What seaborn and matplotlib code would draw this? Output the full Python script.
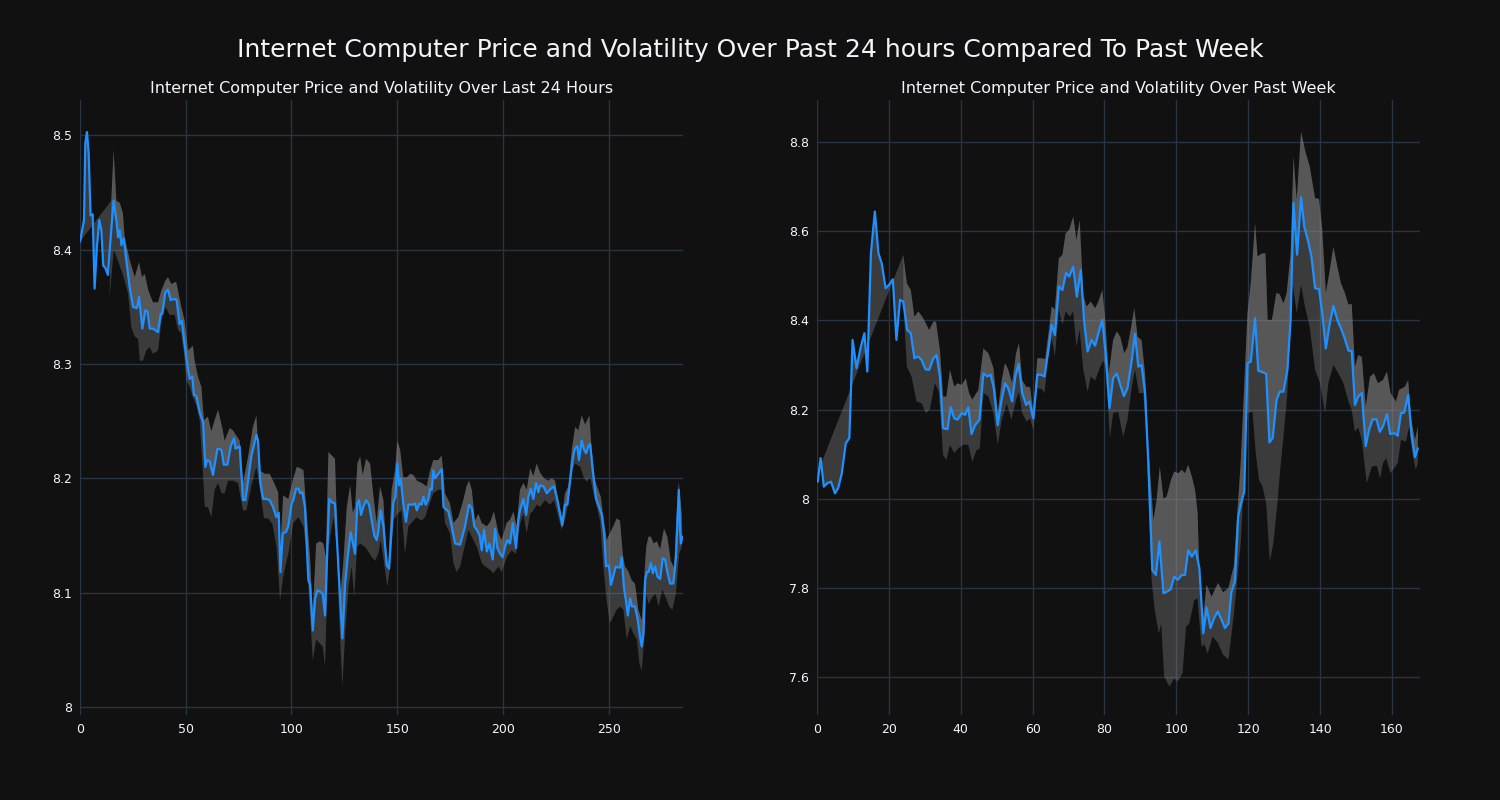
import numpy as np
import matplotlib
matplotlib.use("Agg")
import matplotlib.pyplot as plt
from matplotlib.ticker import FuncFormatter
import seaborn as sns

# ---------------- data: last 24 hours ----------------
day_t = [0, 1.9, 2.5, 3.3, 4.1, 5.0, 6.0, 6.9, 8.0, 9.1, 10.1, 11.0, 12.0, 13.2, 14.5, 15.9, 17.2, 18.0, 18.8, 19.6,
         20.7, 21.9, 23.5, 25.1, 27.0, 27.9, 29.5, 30.9, 31.9, 33.0, 34.5, 36.9, 38.2, 38.9, 40.4, 41.6, 42.9, 44.5,
         45.7, 47.1, 48.2, 49.2, 51.1, 51.9, 53.1, 53.9, 55.0, 56.6, 58.2, 59.3, 60.2, 61.3, 62.9, 65.0, 66.9, 68.0,
         69.7, 71.3, 72.8, 73.6, 75.5, 77.1, 78.2, 79.5, 81.0, 83.4, 84.2, 85.3, 86.6, 88.1, 89.7, 91.3, 92.9, 94.0,
         94.8, 95.9, 97.4, 98.5, 100.1, 100.9, 102.2, 103.3, 104.1, 105.2, 106.4, 108.0, 108.8, 110.1, 111.2, 112.3,
         113.5, 114.8, 115.9, 117.0, 117.9, 119.1, 120.6, 122.2, 124.1, 125.4, 126.6, 128.0, 129.0, 130.1, 131.2,
         132.0, 132.9, 134.0, 135.3, 136.7, 138.0, 139.2, 140.3, 141.0, 142.2, 143.5, 145.1, 146.2, 147.4, 148.2,
         149.2, 150.1, 150.9, 151.7, 152.9, 154.2, 155.3, 157.4, 158.5, 159.3, 160.5, 161.6, 162.4, 163.5, 164.8,
         165.6, 166.4, 167.1, 167.9, 169.5, 171.1, 171.9, 174.2, 175.8, 177.4, 179.8, 182.1, 184.0, 185.3, 186.5,
         187.7, 189.0, 190.0, 191.1, 192.4, 193.6, 195.2, 196.3, 197.4, 198.7, 199.9, 201.0, 202.1, 203.4, 204.7,
         206.2, 207.3, 208.1, 209.7, 211.0, 212.1, 213.2, 214.4, 215.7, 216.8, 217.6, 219.2, 220.8, 222.7, 224.2,
         225.8, 227.1, 228.1, 229.4, 230.5, 231.8, 233.0, 234.0, 235.2, 236.0, 237.3, 238.4, 239.4, 240.4, 241.3,
         242.5, 244.1, 245.7, 246.8, 247.9, 248.8, 250.1, 251.2, 252.3, 253.4, 254.6, 255.4, 256.2, 257.3, 258.3,
         259.1, 260.2, 261.0, 262.5, 263.8, 264.9, 265.7, 266.5, 267.3, 268.1, 268.9, 270.0, 270.9, 272.0, 273.1,
         274.4, 275.6, 276.7, 277.8, 279.1, 280.6, 281.9, 283.2, 283.8, 284.2, 284.9]
day_price = [8.407, 8.426, 8.493, 8.503, 8.484, 8.430, 8.431, 8.366, 8.402, 8.426, 8.417, 8.386, 8.384, 8.378, 8.411,
             8.443, 8.426, 8.411, 8.417, 8.404, 8.410, 8.391, 8.367, 8.350, 8.349, 8.359, 8.331, 8.347, 8.346, 8.331,
             8.331, 8.328, 8.344, 8.344, 8.363, 8.365, 8.356, 8.357, 8.356, 8.335, 8.338, 8.321, 8.295, 8.287, 8.289,
             8.273, 8.272, 8.258, 8.249, 8.210, 8.216, 8.215, 8.203, 8.226, 8.225, 8.212, 8.212, 8.228, 8.235, 8.226,
             8.228, 8.181, 8.181, 8.198, 8.219, 8.238, 8.233, 8.196, 8.182, 8.182, 8.181, 8.175, 8.166, 8.170, 8.118,
             8.152, 8.153, 8.158, 8.178, 8.181, 8.191, 8.191, 8.187, 8.188, 8.175, 8.111, 8.107, 8.067, 8.095, 8.102,
             8.101, 8.099, 8.080, 8.140, 8.182, 8.179, 8.178, 8.123, 8.060, 8.108, 8.131, 8.153, 8.144, 8.134, 8.178,
             8.181, 8.168, 8.175, 8.181, 8.177, 8.163, 8.150, 8.146, 8.152, 8.172, 8.158, 8.124, 8.121, 8.155, 8.179,
             8.184, 8.213, 8.194, 8.200, 8.178, 8.162, 8.177, 8.177, 8.178, 8.172, 8.178, 8.177, 8.184, 8.177, 8.182,
             8.191, 8.190, 8.207, 8.200, 8.204, 8.208, 8.175, 8.171, 8.158, 8.143, 8.142, 8.158, 8.177, 8.174, 8.158,
             8.155, 8.150, 8.137, 8.155, 8.136, 8.143, 8.129, 8.156, 8.139, 8.134, 8.131, 8.140, 8.146, 8.143, 8.161,
             8.139, 8.163, 8.172, 8.182, 8.168, 8.184, 8.191, 8.182, 8.196, 8.188, 8.194, 8.193, 8.187, 8.191, 8.193,
             8.181, 8.169, 8.159, 8.177, 8.177, 8.198, 8.216, 8.226, 8.228, 8.216, 8.233, 8.225, 8.222, 8.228, 8.230,
             8.207, 8.182, 8.174, 8.168, 8.152, 8.123, 8.124, 8.107, 8.115, 8.123, 8.122, 8.122, 8.131, 8.104, 8.092,
             8.080, 8.095, 8.088, 8.088, 8.076, 8.061, 8.053, 8.064, 8.111, 8.118, 8.118, 8.126, 8.117, 8.123, 8.114,
             8.112, 8.130, 8.129, 8.118, 8.108, 8.108, 8.131, 8.190, 8.155, 8.143, 8.149]
day_up_t = [0, 14.8, 15.9, 17.2, 18.8, 20.3, 21.1, 23.5, 25.9, 27.9, 29.3, 30.6, 32.2, 34.5, 36.9, 38.6, 40.4, 41.6,
            43.2, 45.5, 47.9, 49.5, 51.1, 53.4, 54.2, 55.8, 57.4, 58.6, 60.5, 62.1, 63.7, 65.3, 67.2, 68.4, 70.8, 72.3,
            75.5, 77.1, 79.5, 81.8, 83.4, 85.0, 87.4, 89.7, 91.3, 93.7, 94.6, 96.1, 98.5, 100.9, 102.5, 104.1, 105.7,
            107.2, 108.8, 110.1, 111.7, 113.5, 115.1, 116.3, 117.5, 119.1, 120.6, 121.7, 123.0, 124.6, 126.2, 127.8,
            129.0, 130.1, 131.2, 132.5, 133.7, 135.3, 137.2, 138.8, 140.3, 141.9, 143.5, 144.7, 145.8, 147.4, 149.0,
            150.1, 151.4, 152.9, 154.6, 156.2, 157.7, 159.3, 161.6, 164.0, 165.6, 167.1, 169.5, 171.1, 172.6, 175.0,
            176.6, 178.9, 181.3, 182.8, 184.0, 185.3, 186.8, 188.4, 190.0, 192.4, 194.0, 195.8, 197.9, 199.4, 201.8,
            203.4, 205.0, 206.5, 208.1, 209.7, 211.3, 212.9, 214.4, 216.0, 217.6, 219.5, 221.5, 223.1, 224.7, 226.3,
            227.8, 229.4, 231.0, 232.6, 234.2, 235.7, 237.3, 238.9, 240.9, 242.0, 243.6, 245.1, 246.3, 247.5, 249.1,
            250.6, 252.2, 253.8, 255.4, 256.7, 257.7, 259.3, 260.9, 262.5, 264.1, 265.7, 266.8, 267.8, 268.9, 270.0,
            271.3, 272.8, 274.4, 276.2, 277.8, 279.4, 281.0, 282.2, 283.2, 284.6]
day_up = [8.407, 8.443, 8.487, 8.443, 8.441, 8.432, 8.411, 8.391, 8.376, 8.389, 8.376, 8.379, 8.365, 8.354, 8.354,
          8.365, 8.373, 8.376, 8.370, 8.372, 8.350, 8.338, 8.312, 8.316, 8.303, 8.289, 8.280, 8.251, 8.254, 8.241,
          8.251, 8.260, 8.245, 8.233, 8.244, 8.242, 8.233, 8.196, 8.219, 8.245, 8.255, 8.207, 8.204, 8.204, 8.198,
          8.188, 8.131, 8.185, 8.182, 8.200, 8.210, 8.209, 8.207, 8.169, 8.131, 8.082, 8.143, 8.145, 8.143, 8.131,
          8.223, 8.220, 8.217, 8.149, 8.094, 8.128, 8.175, 8.194, 8.170, 8.175, 8.213, 8.219, 8.203, 8.217, 8.213,
          8.184, 8.161, 8.193, 8.181, 8.140, 8.123, 8.190, 8.207, 8.233, 8.225, 8.201, 8.201, 8.204, 8.203, 8.198,
          8.196, 8.193, 8.207, 8.216, 8.216, 8.220, 8.187, 8.178, 8.161, 8.166, 8.181, 8.193, 8.198, 8.190, 8.163,
          8.169, 8.161, 8.158, 8.162, 8.171, 8.152, 8.146, 8.161, 8.164, 8.171, 8.158, 8.190, 8.196, 8.190, 8.209,
          8.202, 8.213, 8.205, 8.200, 8.198, 8.200, 8.198, 8.178, 8.163, 8.187, 8.193, 8.225, 8.245, 8.242, 8.255,
          8.247, 8.255, 8.225, 8.198, 8.190, 8.184, 8.166, 8.146, 8.152, 8.158, 8.165, 8.163, 8.134, 8.123, 8.119,
          8.111, 8.108, 8.085, 8.076, 8.111, 8.140, 8.149, 8.149, 8.143, 8.145, 8.138, 8.156, 8.149, 8.128, 8.122,
          8.169, 8.197, 8.169]
day_lo_t = [14.0, 16.0, 18.0, 20.0, 22.7, 24.3, 25.9, 27.5, 28.3, 29.8, 31.4, 33.0, 34.5, 36.9, 38.6, 40.4, 42.4,
            44.8, 46.3, 47.9, 49.2, 50.3, 51.9, 53.4, 55.0, 56.6, 58.2, 59.0, 60.5, 62.1, 63.7, 65.3, 66.9, 68.4, 70.0,
            72.3, 74.7, 77.1, 78.7, 81.0, 83.4, 85.0, 87.0, 89.0, 91.0, 93.0, 94.6, 96.1, 98.5, 100.9, 103.3, 105.7,
            107.2, 108.8, 110.1, 111.7, 113.2, 114.8, 115.9, 117.5, 119.9, 121.4, 122.7, 124.1, 125.4, 127.0, 128.5,
            129.7, 131.0, 132.5, 134.8, 136.4, 138.0, 139.6, 141.2, 142.2, 143.7, 145.3, 146.5, 148.2, 150.1, 152.1,
            153.7, 155.3, 157.7, 159.3, 161.6, 163.2, 164.8, 167.1, 169.5, 171.4, 172.6, 175.0, 176.6, 178.1, 179.8,
            182.1, 183.7, 185.3, 187.7, 190.0, 191.6, 194.0, 195.5, 197.9, 199.4, 201.8, 204.1, 206.2, 207.8, 209.7,
            211.3, 212.9, 214.4, 216.0, 217.6, 219.9, 222.3, 224.2, 226.3, 227.8, 229.4, 231.0, 232.6, 234.2, 236.6,
            238.2, 239.7, 241.3, 242.8, 244.4, 246.0, 247.5, 249.1, 250.6, 252.2, 253.8, 255.4, 257.0, 258.6, 260.2,
            261.8, 263.4, 264.6, 265.7, 266.8, 267.8, 268.9, 270.6, 272.2, 273.7, 275.4, 277.0, 278.6, 280.2, 281.8,
            283.4, 284.6]
day_lo = [8.359, 8.400, 8.390, 8.380, 8.362, 8.332, 8.324, 8.322, 8.303, 8.303, 8.312, 8.315, 8.309, 8.312, 8.338,
          8.350, 8.343, 8.343, 8.330, 8.327, 8.309, 8.286, 8.280, 8.271, 8.264, 8.251, 8.204, 8.175, 8.175, 8.166,
          8.190, 8.196, 8.187, 8.187, 8.198, 8.198, 8.196, 8.172, 8.172, 8.193, 8.210, 8.193, 8.165, 8.165, 8.160,
          8.140, 8.093, 8.114, 8.134, 8.161, 8.166, 8.158, 8.134, 8.082, 8.041, 8.059, 8.056, 8.053, 8.035, 8.140,
          8.166, 8.140, 8.073, 8.018, 8.064, 8.105, 8.123, 8.096, 8.140, 8.143, 8.140, 8.136, 8.131, 8.128, 8.135,
          8.146, 8.128, 8.105, 8.120, 8.163, 8.169, 8.172, 8.134, 8.158, 8.163, 8.166, 8.163, 8.166, 8.175, 8.187,
          8.190, 8.190, 8.161, 8.152, 8.126, 8.118, 8.123, 8.142, 8.155, 8.149, 8.140, 8.126, 8.123, 8.120, 8.117,
          8.123, 8.118, 8.131, 8.137, 8.134, 8.158, 8.169, 8.152, 8.169, 8.172, 8.177, 8.175, 8.181, 8.177, 8.181,
          8.166, 8.155, 8.164, 8.178, 8.207, 8.213, 8.210, 8.201, 8.197, 8.201, 8.187, 8.175, 8.163, 8.123, 8.093,
          8.073, 8.079, 8.085, 8.088, 8.085, 8.059, 8.071, 8.064, 8.059, 8.038, 8.032, 8.059, 8.099, 8.090, 8.096,
          8.099, 8.088, 8.103, 8.096, 8.088, 8.085, 8.099, 8.134, 8.140]

# ---------------- data: past week ----------------
week_t = [0.2, 1.0, 1.9, 2.9, 3.9, 5.0, 5.9, 6.9, 8.0, 9.0, 9.9, 11.0, 12.2, 13.2, 14.0, 15.0, 16.1, 17.1, 18.0, 19.1,
          20.0, 21.1, 22.1, 23.1, 24.0, 25.1, 26.1, 27.1, 28.2, 29.1, 30.2, 31.2, 32.4, 33.3, 34.2, 35.1, 36.3, 37.2,
          38.2, 39.1, 40.3, 41.2, 42.1, 43.0, 44.0, 45.2, 46.3, 47.4, 48.3, 49.2, 50.3, 51.2, 52.3, 53.2, 54.3, 55.2,
          56.1, 57.1, 58.2, 59.1, 60.2, 61.3, 62.3, 63.3, 64.4, 65.3, 66.2, 67.3, 68.3, 69.3, 70.2, 71.3, 72.3, 73.4,
          74.3, 75.3, 76.4, 77.4, 78.3, 79.4, 80.3, 81.4, 82.4, 83.4, 84.4, 85.4, 86.4, 87.6, 88.5, 89.4, 90.3, 91.3,
          92.2, 93.3, 94.3, 95.3, 96.4, 97.5, 98.4, 99.4, 100.4, 101.5, 102.4, 103.3, 104.3, 105.4, 106.4, 107.5,
          108.4, 109.5, 110.5, 111.5, 112.5, 113.5, 114.5, 115.3, 116.3, 117.2, 117.9, 118.9, 119.8, 120.7, 121.9,
          122.8, 123.9, 125.0, 125.9, 126.8, 127.9, 128.8, 129.8, 130.9, 131.8, 132.6, 133.6, 134.7, 135.6, 136.7,
          137.6, 138.6, 139.7, 140.6, 141.6, 142.7, 143.7, 144.8, 145.8, 146.7, 147.9, 148.8, 149.7, 150.6, 151.6,
          152.7, 153.6, 154.6, 155.7, 156.6, 157.5, 158.6, 159.5, 160.7, 161.6, 162.5, 163.4, 164.5, 165.5, 166.4,
          167.2]
week_price = [8.038, 8.091, 8.027, 8.035, 8.038, 8.012, 8.024, 8.057, 8.124, 8.136, 8.356, 8.293, 8.341, 8.371, 8.285,
              8.550, 8.644, 8.550, 8.528, 8.472, 8.479, 8.492, 8.356, 8.446, 8.442, 8.378, 8.371, 8.315, 8.319, 8.311,
              8.290, 8.289, 8.315, 8.322, 8.274, 8.158, 8.156, 8.205, 8.180, 8.177, 8.192, 8.188, 8.205, 8.145, 8.165,
              8.177, 8.281, 8.274, 8.278, 8.248, 8.165, 8.214, 8.259, 8.248, 8.218, 8.274, 8.302, 8.237, 8.210, 8.218,
              8.180, 8.278, 8.278, 8.274, 8.334, 8.390, 8.367, 8.476, 8.468, 8.506, 8.498, 8.520, 8.453, 8.513, 8.401,
              8.330, 8.356, 8.343, 8.371, 8.401, 8.326, 8.203, 8.270, 8.281, 8.255, 8.230, 8.248, 8.311, 8.370, 8.296,
              8.300, 8.237, 8.080, 7.840, 7.829, 7.904, 7.788, 7.792, 7.797, 7.825, 7.818, 7.829, 7.829, 7.884, 7.870,
              7.884, 7.844, 7.698, 7.756, 7.710, 7.732, 7.747, 7.730, 7.710, 7.720, 7.790, 7.815, 7.960, 7.986, 8.016,
              8.304, 8.307, 8.405, 8.287, 8.284, 8.280, 8.126, 8.136, 8.222, 8.240, 8.240, 8.289, 8.401, 8.663, 8.547,
              8.676, 8.610, 8.576, 8.543, 8.472, 8.470, 8.416, 8.337, 8.393, 8.432, 8.401, 8.382, 8.363, 8.332, 8.331,
              8.210, 8.229, 8.237, 8.118, 8.154, 8.178, 8.178, 8.150, 8.162, 8.190, 8.145, 8.147, 8.141, 8.192, 8.193,
              8.233, 8.139, 8.093, 8.113]
week_up_t = [1.0, 24.0, 25.0, 26.1, 27.1, 28.2, 29.3, 30.3, 31.2, 32.4, 33.1, 34.2, 35.1, 36.0, 37.0, 38.2, 39.1, 40.3,
             41.4, 42.3, 43.2, 44.9, 46.3, 47.7, 49.1, 50.3, 51.4, 52.3, 53.2, 54.3, 55.4, 56.2, 57.1, 58.2, 59.3, 60.2,
             61.3, 62.6, 63.5, 64.6, 65.3, 66.2, 67.3, 68.3, 69.2, 70.2, 71.3, 72.2, 73.1, 74.1, 75.0, 76.2, 77.4, 78.3,
             79.4, 80.2, 81.2, 82.4, 83.4, 84.4, 85.5, 86.4, 87.6, 88.3, 89.2, 90.3, 91.3, 92.2, 93.6, 94.5, 95.4, 96.4,
             97.3, 98.5, 99.4, 100.5, 101.5, 102.4, 103.3, 104.3, 105.2, 105.9, 106.6, 107.5, 108.4, 109.8, 110.7,
             111.6, 113.0, 114.5, 116.0, 117.9, 119.8, 120.7, 121.9, 122.6, 123.8, 124.8, 125.4, 126.6, 127.8, 128.7,
             129.8, 130.7, 131.8, 132.6, 133.5, 134.7, 135.8, 137.1, 138.6, 139.7, 140.6, 141.6, 142.7, 143.7, 144.8,
             145.8, 146.9, 147.9, 148.8, 149.7, 150.6, 151.6, 152.7, 153.9, 155.0, 156.1, 157.5, 158.6, 159.6, 161.1,
             162.0, 163.6, 164.5, 165.4, 166.4, 167.2]
week_up = [8.075, 8.547, 8.483, 8.468, 8.408, 8.420, 8.408, 8.393, 8.378, 8.397, 8.397, 8.334, 8.229, 8.229, 8.289,
           8.251, 8.259, 8.255, 8.270, 8.237, 8.222, 8.244, 8.337, 8.326, 8.293, 8.192, 8.266, 8.304, 8.290, 8.259,
           8.326, 8.349, 8.266, 8.251, 8.250, 8.192, 8.315, 8.315, 8.313, 8.382, 8.431, 8.425, 8.539, 8.547, 8.595,
           8.603, 8.633, 8.580, 8.625, 8.457, 8.431, 8.442, 8.427, 8.442, 8.468, 8.401, 8.281, 8.356, 8.375, 8.363,
           8.326, 8.340, 8.393, 8.427, 8.363, 8.356, 8.281, 8.117, 7.952, 7.997, 8.072, 8.000, 8.005, 8.042, 8.061,
           8.057, 8.065, 8.057, 8.076, 8.050, 8.020, 7.970, 7.788, 7.736, 7.807, 7.780, 7.796, 7.811, 7.790, 7.800,
           7.850, 8.080, 8.416, 8.483, 8.618, 8.543, 8.550, 8.550, 8.401, 8.401, 8.461, 8.459, 8.438, 8.461, 8.550,
           8.767, 8.670, 8.823, 8.782, 8.745, 8.674, 8.672, 8.603, 8.461, 8.513, 8.565, 8.520, 8.483, 8.461, 8.435,
           8.437, 8.296, 8.322, 8.318, 8.207, 8.274, 8.281, 8.259, 8.266, 8.285, 8.237, 8.218, 8.244, 8.251, 8.266,
           8.177, 8.132, 8.162]
week_lo_t = [24.0, 25.0, 26.3, 27.7, 29.1, 30.3, 31.4, 32.8, 33.9, 35.1, 36.0, 37.0, 38.2, 39.3, 40.7, 42.1, 43.2,
             44.4, 45.3, 46.3, 47.7, 49.1, 50.3, 51.4, 52.8, 54.1, 55.4, 56.2, 57.1, 58.3, 59.3, 60.2, 61.3, 62.6, 63.3,
             64.4, 65.3, 66.2, 67.3, 68.3, 69.2, 70.4, 71.3, 72.2, 73.1, 74.1, 75.3, 76.2, 77.4, 78.8, 79.7, 80.3, 81.5,
             82.4, 83.8, 85.2, 86.4, 87.6, 88.5, 89.6, 90.8, 91.7, 93.1, 94.0, 95.1, 95.8, 96.6, 98.1, 99.4, 100.4,
             101.7, 102.7, 103.6, 105.0, 105.9, 107.0, 107.8, 108.7, 110.1, 111.6, 113.0, 114.5, 116.0, 117.9, 119.8,
             121.2, 122.1, 123.0, 124.0, 125.0, 126.0, 127.0, 128.0, 128.9, 129.8, 130.9, 131.8, 132.4, 133.5, 134.7,
             135.8, 137.1, 138.6, 140.0, 141.4, 142.3, 143.7, 145.1, 146.5, 147.9, 148.8, 149.7, 150.6, 151.6, 153.0,
             154.4, 155.8, 156.7, 157.5, 158.4, 159.6, 160.7, 161.6, 162.5, 163.9, 164.8, 165.7, 166.6, 167.2]
week_lo = [8.442, 8.296, 8.274, 8.218, 8.214, 8.192, 8.200, 8.259, 8.240, 8.098, 8.087, 8.121, 8.102, 8.113, 8.121,
           8.121, 8.083, 8.109, 8.112, 8.237, 8.229, 8.192, 8.121, 8.177, 8.214, 8.177, 8.222, 8.240, 8.192, 8.173,
           8.180, 8.154, 8.248, 8.246, 8.237, 8.319, 8.363, 8.319, 8.423, 8.390, 8.420, 8.408, 8.420, 8.341, 8.380,
           8.289, 8.240, 8.274, 8.265, 8.296, 8.310, 8.296, 8.136, 8.192, 8.195, 8.139, 8.177, 8.251, 8.289, 8.237,
           8.237, 8.132, 7.818, 7.751, 7.698, 7.720, 7.601, 7.579, 7.597, 7.590, 7.609, 7.713, 7.720, 7.773, 7.776,
           7.668, 7.674, 7.653, 7.691, 7.676, 7.650, 7.640, 7.740, 7.900, 8.192, 8.195, 8.102, 8.042, 8.027, 7.990,
           7.860, 7.900, 7.980, 8.065, 8.139, 8.237, 8.416, 8.480, 8.416, 8.480, 8.430, 8.386, 8.289, 8.259, 8.192,
           8.260, 8.300, 8.281, 8.259, 8.218, 8.199, 8.150, 8.160, 8.132, 8.035, 8.072, 8.074, 8.046, 8.080, 8.091,
           8.057, 8.070, 8.080, 8.132, 8.128, 8.162, 8.102, 8.065, 8.080]

day_yticks = [8.0, 8.1, 8.2, 8.3, 8.4, 8.5]
day_xticks = [0, 50, 100, 150, 200, 250]
week_yticks = [7.6, 7.8, 8.0, 8.2, 8.4, 8.6, 8.8]
week_xticks = [0, 20, 40, 60, 80, 100, 120, 140, 160]

suptitle = "Internet Computer Price and Volatility Over Past 24 hours Compared To Past Week"
title_day = "Internet Computer Price and Volatility Over Last 24 Hours"
title_week = "Internet Computer Price and Volatility Over Past Week"

# ---------------- style ----------------
BG = "#111111"
GRID = "#283442"
TXT = "#f2f5fa"
LINE = "#1e90ff"
BAND = "#8c8c8c"

sns.set_theme(style="darkgrid", rc={
    "figure.facecolor": BG, "axes.facecolor": BG, "savefig.facecolor": BG,
    "grid.color": GRID, "grid.linewidth": 1.0,
    "text.color": TXT, "xtick.color": TXT, "ytick.color": TXT,
    "axes.labelcolor": TXT,
})
plt.rcParams["font.family"] = ["DejaVu Sans"]

fig = plt.figure(figsize=(15, 8), dpi=100)
ax1 = fig.add_axes([80 / 1500, 85 / 800, 603 / 1500, 615 / 800])
ax2 = fig.add_axes([817 / 1500, 85 / 800, 603 / 1500, 615 / 800])


def draw(ax, t, p, ut, u, lt, lo, xlim, ylim, xticks, yticks, title):
    t = np.asarray(t); p = np.asarray(p)
    ut = np.asarray(ut); u = np.asarray(u)
    lt = np.asarray(lt); lo = np.asarray(lo)
    # band between lower and upper
    keep = ut >= lt[0]
    bx = np.concatenate([lt, ut[keep][::-1]])
    by = np.concatenate([lo, u[keep][::-1]])
    ax.fill(bx, by, color=BAND, alpha=0.35, lw=0, zorder=2)
    # band between price and upper
    ax.fill(np.concatenate([t, ut[::-1]]), np.concatenate([p, u[::-1]]),
            color=BAND, alpha=0.35, lw=0, zorder=2)
    sns.lineplot(x=t, y=p, ax=ax, color=LINE, linewidth=1.6, sort=False, zorder=3)
    ax.set_xlim(*xlim)
    ax.set_ylim(*ylim)
    ax.set_xticks(xticks)
    ax.set_yticks(yticks)
    ax.yaxis.set_major_formatter(FuncFormatter(lambda v, _: f"{v:g}"))
    ax.tick_params(length=0, labelsize=9, pad=6, colors=TXT)
    for s in ax.spines.values():
        s.set_visible(False)
    ax.grid(True, color=GRID, linewidth=1.0)
    ax.set_axisbelow(True)
    ax.set_xlabel("")
    ax.set_ylabel("")
    ax.set_title(title, fontsize=11.5, color=TXT, pad=5)


draw(ax1, day_t, day_price, day_up_t, day_up, day_lo_t, day_lo,
     (0, 285.2), (7.993, 8.531), day_xticks, day_yticks, title_day)
draw(ax2, week_t, week_price, week_up_t, week_up, week_lo_t, week_lo,
     (0, 167.8), (7.515, 8.894), week_xticks, week_yticks, title_week)

fig.text(0.5, 1 - 50 / 800, suptitle, ha="center", va="center", fontsize=18, color=TXT)

fig.savefig("out.png", dpi=100, facecolor=BG)
